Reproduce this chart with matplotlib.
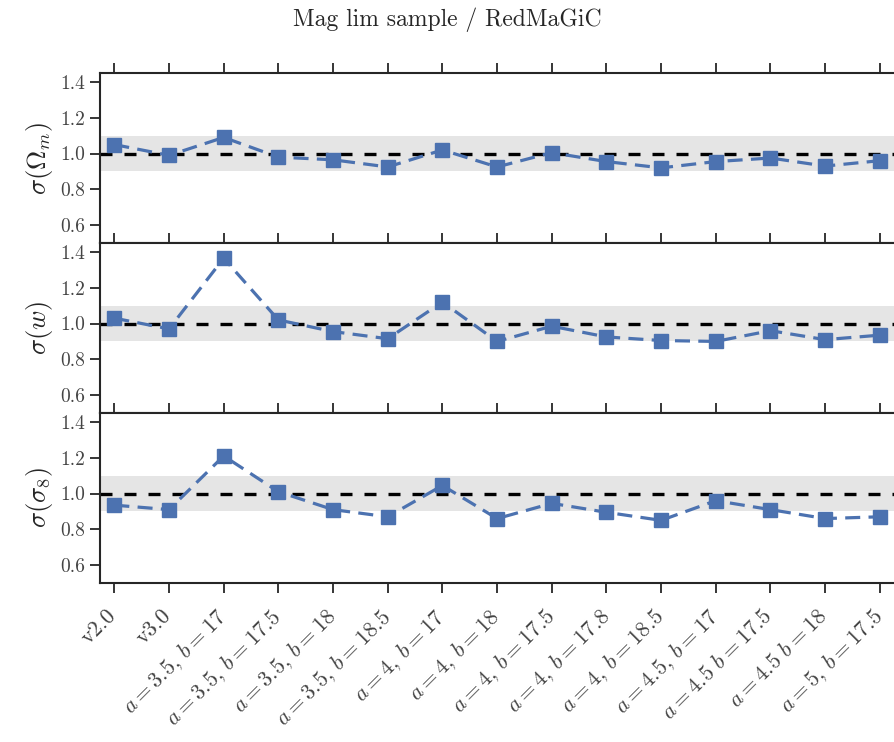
import numpy as np
import matplotlib
matplotlib.use('Agg')
import matplotlib.pyplot as plt
from matplotlib.transforms import ScaledTranslation

plt.rcParams['font.family'] = 'serif'
plt.rcParams['font.serif'] = ['cmr10', 'DejaVu Serif']
plt.rcParams['mathtext.fontset'] = 'cm'
plt.rcParams['axes.unicode_minus'] = False
plt.rcParams['axes.formatter.use_mathtext'] = True

# samples compared against the fiducial RedMaGiC run
labels = ['v2.0', 'v3.0',
          r'$a=3.5,\,b=17$', r'$a=3.5,\,b=17.5$', r'$a=3.5,\,b=18$', r'$a=3.5,\,b=18.5$',
          r'$a=4,\,b=17$', r'$a=4,\,b=18$', r'$a=4,\,b=17.5$', r'$a=4,\,b=17.8$', r'$a=4,\,b=18.5$',
          r'$a=4.5,\,b=17$', r'$a=4.5\ b=17.5$', r'$a=4.5\ b=18$', r'$a=5,\,b=17.5$']

sig_om = [1.05, 0.99, 1.09, 0.98, 0.965, 0.925, 1.02, 0.925, 1.005, 0.955, 0.92, 0.955, 0.975, 0.93, 0.96]
sig_w = [1.03, 0.97, 1.365, 1.02, 0.955, 0.915, 1.12, 0.90, 0.985, 0.925, 0.905, 0.90, 0.96, 0.91, 0.935]
sig_s8 = [0.935, 0.91, 1.21, 1.01, 0.91, 0.87, 1.045, 0.86, 0.945, 0.895, 0.85, 0.96, 0.91, 0.86, 0.87]

ylabels = [r'$\sigma(\Omega_m)$', r'$\sigma(w)$', r'$\sigma(\sigma_8)$']
series = [sig_om, sig_w, sig_s8]

blue = '#4c72b0'
dark = '#262626'

fig = plt.figure(figsize=(8.94, 7.42), dpi=100)
fig.suptitle('Mag lim sample / RedMaGiC', fontsize=17, y=0.99, color=dark)

x = np.arange(len(labels))
left, bottom, width, height = 0.112, 0.2143, 0.888, 0.2291

for i, (vals, yl) in enumerate(zip(series, ylabels)):
    ax = fig.add_axes([left, bottom + (2 - i) * height, width, height])
    ax.axhspan(0.9, 1.1, color='#e5e5e5', lw=0, zorder=0)
    ax.axhline(1.0, color='k', ls=(0, (3.6, 3.6)), lw=2.4, zorder=1)
    ax.plot(x, vals, ls=(0, (4.7, 2.6)), color=blue, lw=2.3, marker='s', ms=10,
            mec=blue, zorder=2)
    ax.set_xlim(-0.26, 14.26)
    ax.set_ylim(0.5, 1.45)
    ax.set_yticks([0.6, 0.8, 1.0, 1.2, 1.4])
    ax.set_yticklabels(['0.6', '0.8', '1.0', '1.2', '1.4'])
    ax.set_xticks(x)
    ax.set_ylabel(yl, fontsize=19, labelpad=4, color=dark)
    for s in ['left', 'top', 'bottom']:
        ax.spines[s].set_linewidth(1.5)
        ax.spines[s].set_color(dark)
    ax.spines['right'].set_visible(False)
    ax.tick_params(direction='out', length=7, width=1.3, color=dark,
                   labelsize=14, labelcolor='#444444')
    if i < 2:
        ax.tick_params(axis='x', top=True, bottom=False, labelbottom=False)
    else:
        ax.tick_params(axis='x', top=True, bottom=True, pad=9)
        ax.set_xticklabels(labels, rotation=45, ha='right',
                           rotation_mode='anchor', fontsize=16)
        # nudge the rotated labels a little left so they end under the ticks
        shift = ScaledTranslation(-6 / 72, 0, fig.dpi_scale_trans)
        for lab in ax.get_xticklabels():
            lab.set_transform(lab.get_transform() + shift)

fig.savefig('out.png', dpi=100)
